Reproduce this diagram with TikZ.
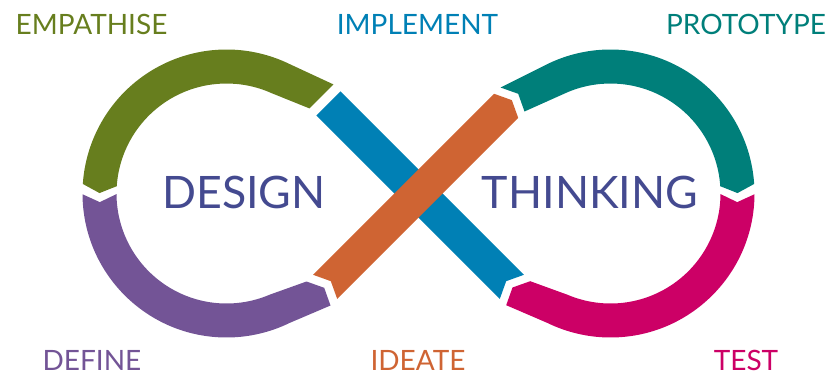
\documentclass[tikz,border=0pt]{standalone}
\usepackage{fontspec}
\setmainfont{Lato}
\usetikzlibrary{calc}
\definecolor{empcol}{RGB}{103,126,30}
\definecolor{defcol}{RGB}{115,84,150}
\definecolor{ideacol}{RGB}{207,100,51}
\definecolor{implcol}{RGB}{0,128,181}
\definecolor{protcol}{RGB}{0,127,122}
\definecolor{testcol}{RGB}{204,0,102}
\definecolor{wordcol}{RGB}{68,74,144}
\begin{document}
\begin{tikzpicture}[x=1pt,y=1pt,
    word/.style={text=wordcol, font=\fontsize{44.7}{48}\selectfont, inner sep=0pt},
    stage/.style={font=\fontsize{28}{32}\selectfont, inner sep=0pt}]
    \useasboundingbox (0,0) rectangle (832,381);
    \coordinate (L) at (226.5,187.5);
    \coordinate (R) at (610.5,187.5);
    \coordinate (X) at (418.5,187.5);
    % left loop
    \fill[empcol] (309.4,272.6) -- (333.4,296.6) -- ($(L)+(64:144)$) arc[start angle=64, end angle=176.2, radius=144]
        -- ($(L)+(179.8:127)$) -- ($(L)+(176.2:110)$) arc[start angle=176.2, end angle=66, radius=110] -- cycle;
    \fill[defcol] ($(L)+(180.3:144)$) arc[start angle=180.3, end angle=296, radius=144]
        -- (330.5,75.5) -- (324.2,93.2) -- (306.5,99.5) -- ($(L)+(293:110)$) arc[start angle=293, end angle=180.3, radius=110]
        -- ($(L)+(183.9:127)$) -- cycle;
    % right loop
    \fill[protcol] (500.5,293.5) -- ($(R)+(116:144)$) arc[start angle=116, end angle=3.8, radius=144]
        -- ($(R)+(0.2:127)$) -- ($(R)+(3.8:110)$) arc[start angle=3.8, end angle=114, radius=110]
        -- (524.5,269.5) -- (518.2,287.2) -- cycle;
    \fill[testcol] ($(R)+(359.7:144)$) arc[start angle=359.7, end angle=244, radius=144]
        -- (506.2,75.8) -- (512.5,93.5) -- (530.2,99.8) -- ($(R)+(247:110)$) arc[start angle=247, end angle=359.7, radius=110]
        -- ($(R)+(356.1:127)$) -- cycle;
    % crossing
    \fill[implcol, shift={(X)}, rotate=-45] (-127.3,-17) -- (-127.3,17) -- (132,17) -- (124,0) -- (132,-17) -- cycle;
    \fill[ideacol, shift={(X)}, rotate=45] (-132,-17) -- (-124,0) -- (-132,17) -- (124,17) -- (132,0) -- (124,-17) -- cycle;
    % words
    \node[word] (design) at (244,188.5) {DESIGN};
    \node[word] (thinking) at (590,188.5) {THINKING};
    \node[stage, text=empcol] (empathise) at (91.5,357) {EMPATHISE};
    \node[stage, text=implcol] (implement) at (417.5,357) {IMPLEMENT};
    \node[stage, text=protcol] (prototype) at (746,357) {PROTOTYPE};
    \node[stage, text=defcol] (define) at (92,21) {DEFINE};
    \node[stage, text=ideacol] (ideate) at (418,21) {IDEATE};
    \node[stage, text=testcol] (test) at (746,21) {TEST};
\end{tikzpicture}
\end{document}
